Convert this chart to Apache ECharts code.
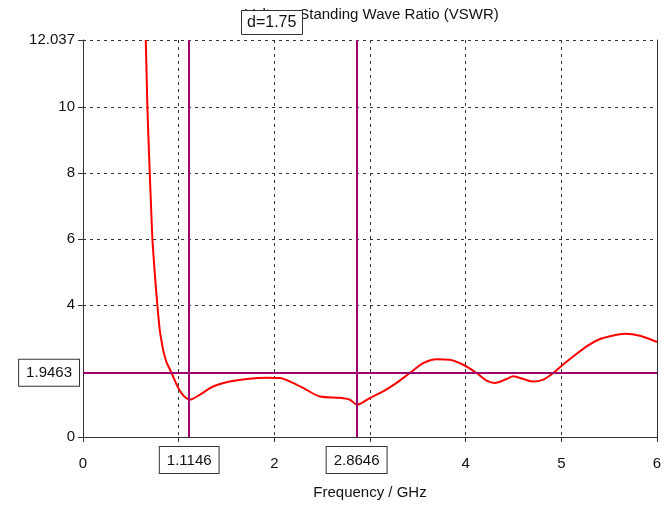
<!DOCTYPE html>
<html>
<head>
<meta charset="utf-8">
<script src="https://cdn.jsdelivr.net/npm/echarts@6/dist/echarts.min.js"></script>
<style>
  html, body { margin: 0; padding: 0; background: #fff; }
  #chart { width: 670px; height: 506px; }
</style>
</head>
<body>
<div id="chart"></div>
<script>
// VSWR sweep, frequency in GHz
const freqGHz = [0.656, 0.665, 0.673, 0.685, 0.698, 0.712, 0.726, 0.752, 0.778, 0.790, 0.802, 0.820,
  0.837, 0.857, 0.878, 0.900, 0.924, 0.950, 0.977, 1.000, 1.029, 1.065, 1.1146,
  1.220, 1.360, 1.534, 1.709, 1.918, 2.057, 2.196, 2.336, 2.476, 2.685, 2.790, 2.8646,
  2.997, 3.137, 3.278, 3.417, 3.556, 3.696, 3.835, 3.974, 4.114, 4.219, 4.306, 4.428,
  4.497, 4.602, 4.706, 4.811, 4.915, 5.003, 5.124, 5.265, 5.404, 5.543, 5.665, 5.822, 6.0];
const vswr = [12.037, 11.0, 10.01, 9.0, 7.98, 6.95, 5.98, 4.90, 3.98, 3.60, 3.25, 2.92,
  2.65, 2.42, 2.23, 2.10, 1.95, 1.78, 1.60, 1.47, 1.33, 1.21, 1.13,
  1.28, 1.53, 1.68, 1.76, 1.80, 1.79, 1.64, 1.43, 1.23, 1.19, 1.13, 0.98,
  1.18, 1.38, 1.64, 1.94, 2.24, 2.36, 2.34, 2.19, 1.94, 1.71, 1.64, 1.76,
  1.84, 1.76, 1.68, 1.74, 1.94, 2.16, 2.44, 2.75, 2.97, 3.08, 3.13, 3.07, 2.88];

// Axis ticks
const xTicks = [0, 1, 2, 3, 4, 5, 6];
const yTicks = [0, 4, 6, 8, 10, 12.037];
const yMax = 12.037;

// Markers
const freqMarkers = [1.1146, 2.8646];
const levelMarker = 1.9463;
const markerDelta = (freqMarkers[1] - freqMarkers[0]).toFixed(2);

const FONT = 'Liberation Sans';
const markColor = '#a0006b';
const boxLabel = {
  show: true,
  color: '#111',
  fontFamily: FONT,
  fontSize: 15,
  backgroundColor: '#fff',
  borderColor: '#333',
  borderWidth: 1,
  padding: [6, 7, 5, 7]
};

const chart = echarts.init(document.getElementById('chart'), null, { renderer: 'canvas' });
chart.setOption({
  animation: false,
  backgroundColor: '#fff',
  title: [
    {
      text: 'Voltage Standing Wave Ratio (VSWR)',
      left: 240,
      top: 2,
      z: 5,
      textStyle: { fontFamily: FONT, fontSize: 15, fontWeight: 'normal', color: '#111' }
    },
    {
      text: 'd=' + markerDelta,
      left: 241,
      top: 10,
      z: 20,
      backgroundColor: '#fff',
      borderColor: '#333',
      borderWidth: 1,
      padding: [5, 6, 4, 6],
      textStyle: { fontFamily: FONT, fontSize: 16, fontWeight: 'normal', color: '#111' }
    }
  ],
  grid: { left: 83, right: 13, top: 40, bottom: 69, containLabel: false },
  xAxis: {
    type: 'value',
    min: 0, max: 6, interval: 1,
    name: 'Frequency / GHz',
    nameLocation: 'middle',
    nameGap: 48,
    nameTextStyle: { fontFamily: FONT, fontSize: 15, color: '#111' },
    axisLine: { show: true, onZero: false, lineStyle: { color: '#333', width: 1 } },
    axisTick: { show: true, length: 5, customValues: xTicks, lineStyle: { color: '#333' } },
    axisLabel: { customValues: xTicks, fontFamily: FONT, fontSize: 15, color: '#111', margin: 19 },
    splitLine: { show: true, lineStyle: { color: '#333', type: [3, 4], width: 1 } }
  },
  yAxis: [
    {
      type: 'value',
      min: 0, max: yMax,
      axisLine: { show: true, lineStyle: { color: '#333', width: 1 } },
      axisTick: { show: true, length: 5, customValues: yTicks, lineStyle: { color: '#333' } },
      axisLabel: { customValues: yTicks, fontFamily: FONT, fontSize: 15, color: '#111', margin: 8 },
      splitLine: { show: true, lineStyle: { color: '#333', type: [3, 4], width: 1 } }
    },
    {
      type: 'value',
      position: 'right',
      min: 0, max: yMax,
      axisLine: { show: true, lineStyle: { color: '#333', width: 1 } },
      axisTick: { show: false },
      axisLabel: { show: false },
      splitLine: { show: false }
    }
  ],
  series: [{
    type: 'line',
    data: freqGHz.map((f, i) => [f, vswr[i]]),
    smooth: 0.3,
    showSymbol: false,
    clip: true,
    lineStyle: { color: '#ff0000', width: 2 },
    markLine: {
      silent: true,
      symbol: 'none',
      animation: false,
      lineStyle: { color: markColor, width: 2, type: 'solid' },
      data: [
        { xAxis: freqMarkers[0], label: Object.assign({}, boxLabel, { position: 'start', distance: 10, formatter: String(freqMarkers[0]) }) },
        { xAxis: freqMarkers[1], label: Object.assign({}, boxLabel, { position: 'start', distance: 10, formatter: String(freqMarkers[1]) }) },
        { yAxis: levelMarker, label: Object.assign({}, boxLabel, { position: 'start', distance: 4, formatter: String(levelMarker) }) }
      ]
    }
  }]
});
</script>
</body>
</html>
